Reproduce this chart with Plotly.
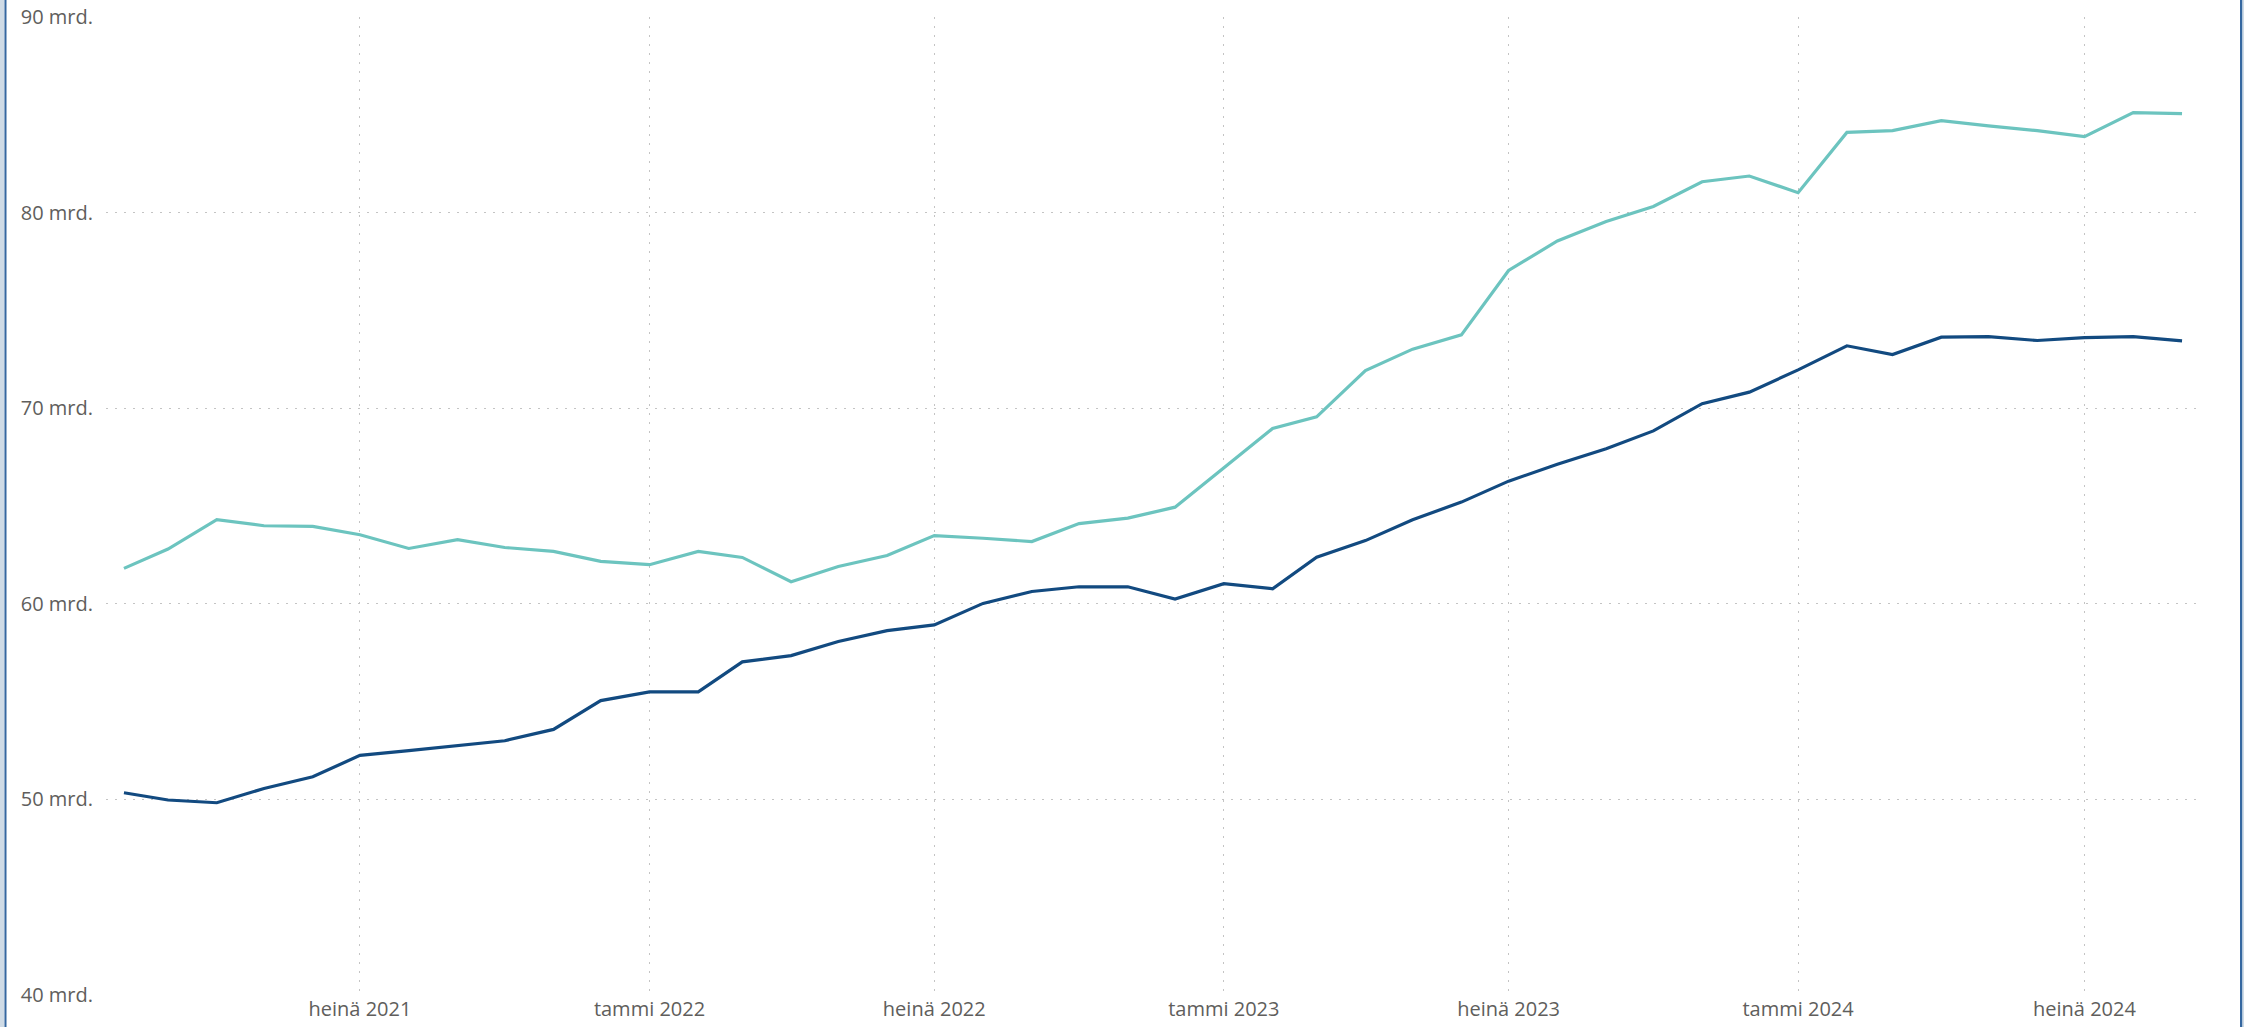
import plotly.graph_objects as go
import pandas as pd

months = pd.date_range("2021-02-01", "2024-09-01", freq="MS").strftime("%Y-%m-%d").tolist()

teal_values = [
    61.81, 62.80, 64.30, 63.99, 63.96, 63.53, 62.83, 63.28, 62.88, 62.68, 62.17,
    62.00, 62.68, 62.37, 61.13, 61.91, 62.47, 63.49, 63.35, 63.18, 64.10, 64.38,
    64.94, 66.96, 68.96, 69.56, 71.92, 73.02, 73.75, 77.04, 78.55, 79.54, 80.31,
    81.58, 81.87, 81.02, 84.10, 84.19, 84.70, 84.43, 84.19, 83.88, 85.11, 85.06,
]

dark_values = [
    50.34, 49.97, 49.83, 50.56, 51.16, 52.25, 52.49, 52.75, 53.00, 53.58, 55.05,
    55.50, 55.50, 57.03, 57.35, 58.07, 58.63, 58.92, 60.02, 60.63, 60.87, 60.87,
    60.24, 61.03, 60.77, 62.38, 63.23, 64.30, 65.20, 66.27, 67.13, 67.93, 68.84,
    70.23, 70.82, 71.96, 73.19, 72.74, 73.63, 73.66, 73.46, 73.61, 73.66, 73.44,
]

x_tick_vals = ["2021-07-01", "2022-01-01", "2022-07-01", "2023-01-01",
               "2023-07-01", "2024-01-01", "2024-07-01"]
x_tick_text = ["heinä 2021", "tammi 2022", "heinä 2022", "tammi 2023",
               "heinä 2023", "tammi 2024", "heinä 2024"]
y_tick_vals = [40, 50, 60, 70, 80, 90]
y_tick_text = [f"{v} mrd." for v in y_tick_vals]

W, H = 2244, 1027
L, R, T, B = 106, 44, 17, 32
pw, ph = W - L - R, H - T - B

fig = go.Figure()
fig.add_trace(go.Scatter(x=months, y=teal_values, mode="lines",
                         line=dict(color="#6CC4BF", width=3.2), showlegend=False))
fig.add_trace(go.Scatter(x=months, y=dark_values, mode="lines",
                         line=dict(color="#124A80", width=3.2), showlegend=False))

font_family = "Open Sans, Noto Sans, sans-serif"
grid_dash = "2px,7px"
fig.update_layout(
    width=W, height=H,
    margin=dict(l=L, r=R, t=T, b=B, autoexpand=False),
    paper_bgcolor="white", plot_bgcolor="white",
    font=dict(family=font_family, size=20, color="#605E5C"),
    xaxis=dict(
        type="date",
        range=["2021-01-20 14:00", "2024-09-12 10:00"],
        tickvals=x_tick_vals, ticktext=x_tick_text,
        showgrid=True, gridcolor="#C4C4C4", griddash=grid_dash, gridwidth=1.2,
        zeroline=False, showline=False, ticks="", automargin=False,
        tickfont=dict(size=20, color="#605E5C"),
    ),
    yaxis=dict(
        range=[40, 90],
        tickvals=y_tick_vals, ticktext=y_tick_text,
        showgrid=True, gridcolor="#C4C4C4", griddash=grid_dash, gridwidth=1.2,
        zeroline=False, showline=False, ticks="", automargin=False,
        ticklabelstandoff=12,
        tickfont=dict(size=20, color="#605E5C"),
    ),
)

def px_to_paper_x(px):
    return (px - L) / pw

def px_to_paper_y(py):
    return (H - B - py) / ph

y_top = px_to_paper_y(-2)
y_bot = px_to_paper_y(H + 2)
shapes = [
    dict(type="rect", xref="paper", yref="paper",
         x0=px_to_paper_x(-1), x1=px_to_paper_x(4.5), y0=y_bot, y1=y_top,
         fillcolor="#CFDBE6", line=dict(width=0), layer="above"),
    dict(type="rect", xref="paper", yref="paper",
         x0=px_to_paper_x(4.5), x1=px_to_paper_x(6.5), y0=y_bot, y1=y_top,
         fillcolor="#3567A0", line=dict(width=0), layer="above"),
    dict(type="rect", xref="paper", yref="paper",
         x0=px_to_paper_x(2240), x1=px_to_paper_x(2242.5), y0=y_bot, y1=y_top,
         fillcolor="#3567A0", line=dict(width=0), layer="above"),
    dict(type="rect", xref="paper", yref="paper",
         x0=px_to_paper_x(2242.5), x1=px_to_paper_x(2245), y0=y_bot, y1=y_top,
         fillcolor="#CFDBE6", line=dict(width=0), layer="above"),
]
fig.update_layout(shapes=shapes)

fig.write_html(
    "out.html",
    config={"displayModeBar": False},
    post_script="document.documentElement.style.margin='0';document.body.style.margin='0';"
                "document.body.style.overflow='hidden';document.documentElement.style.overflow='hidden';",
)
